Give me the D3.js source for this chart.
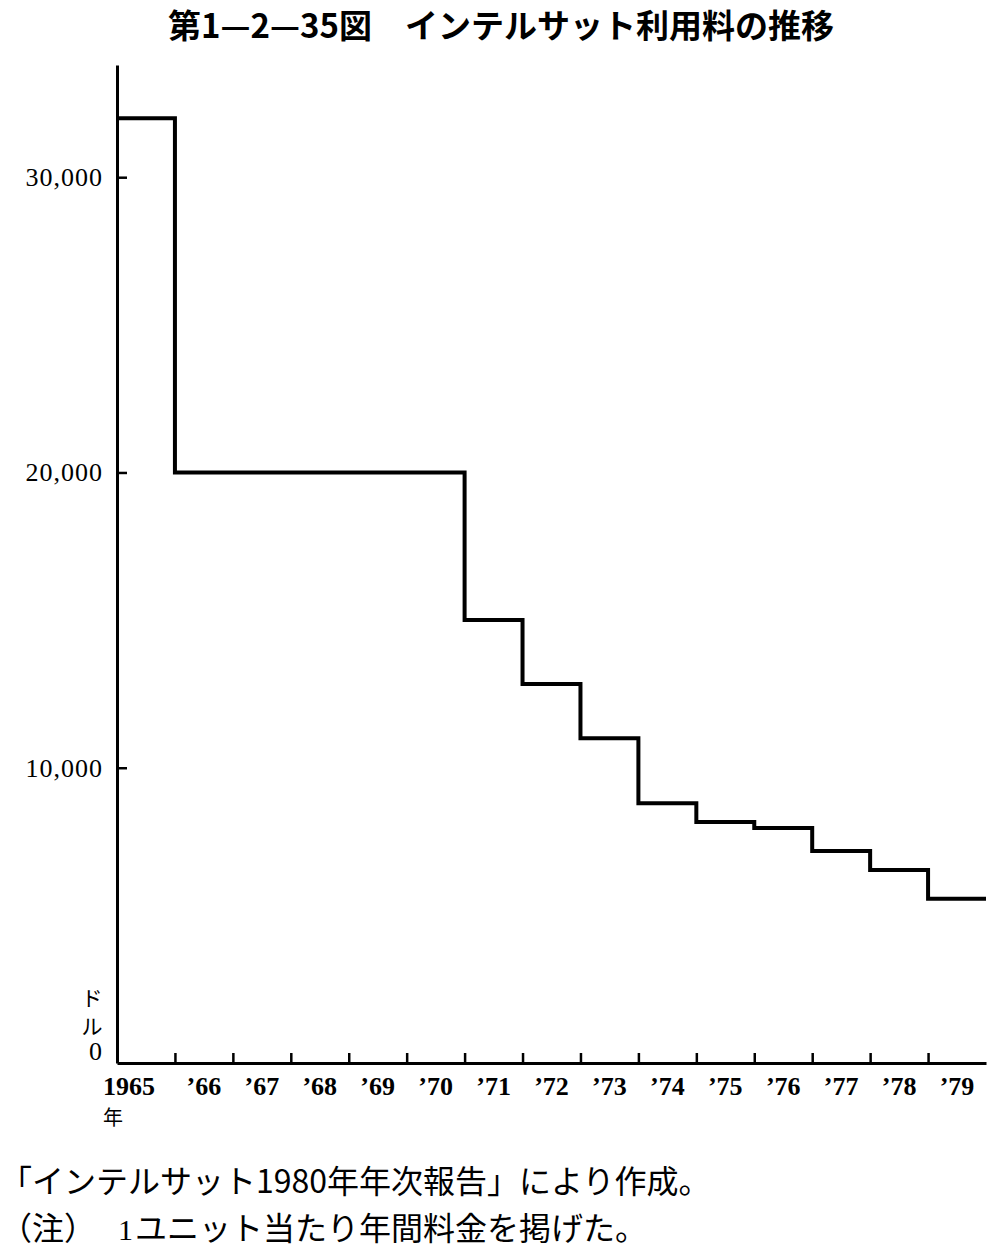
<!DOCTYPE html>
<html>
<head>
<meta charset="utf-8">
<script src="https://cdn.jsdelivr.net/npm/d3@7"></script>
<style>
  html, body { margin: 0; padding: 0; background: #fff; }
  svg { display: block; }
  .num { font-family: "Liberation Serif", "DejaVu Serif", serif; fill: #000; }
  .jp { font-family: "Noto Sans CJK JP", sans-serif; fill: #000; }
</style>
</head>
<body>
<svg id="chart" width="1005" height="1253"></svg>
<script>
// ---- data ----
const years = [1965, 1966, 1967, 1968, 1969, 1970, 1971, 1972, 1973, 1974, 1975, 1976, 1977, 1978, 1979];
const fees  = [32000, 20000, 20000, 20000, 20000, 20000, 15000, 12840, 11000, 8800, 8160, 7960, 7180, 6540, 5560];
const yearLabels = ["1965", "’66", "’67", "’68", "’69", "’70", "’71", "’72", "’73", "’74", "’75", "’76", "’77", "’78", "’79"];
const yTicks = [0, 10000, 20000, 30000];
const yTickLabels = ["0", "10,000", "20,000", "30,000"];
const title = "第1—2—35図　インテルサット利用料の推移";
const unitLabel = ["ド", "ル"];
const yearUnit = "年";
const note1 = "「インテルサット1980年年次報告」により作成。";
const note2a = "（注）";
const note2b = "1";
const note2c = "ユニット当たり年間料金を掲げた。";

// ---- layout ----
const svg = d3.select("#chart");
const x = d3.scaleLinear().domain([1965, 1980]).range([117, 986]);
const y = d3.scaleLinear().domain([0, 33800]).range([1063, 65]);

// title
svg.append("text").attr("class", "jp")
  .attr("x", 501).attr("y", 38)
  .attr("text-anchor", "middle")
  .attr("font-size", 33).attr("font-weight", 700)
  .text(title);

// y axis
const yAxis = d3.axisRight(y)
  .tickValues(yTicks.filter(d => d > 0))
  .tickSizeInner(10).tickSizeOuter(0)
  .tickFormat("");
const gy = svg.append("g").attr("transform", `translate(${x(1965)},0)`).call(yAxis);
gy.select(".domain").attr("stroke", "#000").attr("stroke-width", 3);
gy.selectAll(".tick line").attr("stroke", "#000").attr("stroke-width", 2.5);

svg.append("g").selectAll("text").data(yTicks).join("text")
  .attr("class", "num")
  .attr("x", 103)
  .attr("y", d => d === 0 ? y(d) - 3 : y(d) + 9)
  .attr("text-anchor", "end")
  .attr("font-size", 26)
  .attr("letter-spacing", 1)
  .text((d, i) => yTickLabels[i]);

// unit ドル (vertical)
svg.append("g").selectAll("text").data(unitLabel).join("text")
  .attr("class", "jp")
  .attr("x", 92).attr("y", (d, i) => 1006 + i * 28)
  .attr("text-anchor", "middle")
  .attr("font-size", 21)
  .text(d => d);

// x axis
const xAxis = d3.axisBottom(x)
  .tickValues(years.slice(1))
  .tickSizeInner(-10).tickSizeOuter(0)
  .tickFormat("");
const gx = svg.append("g").attr("transform", `translate(0,${y(0)})`).call(xAxis);
gx.select(".domain").attr("stroke", "#000").attr("stroke-width", 3);
gx.selectAll(".tick line").attr("stroke", "#000").attr("stroke-width", 2.5);

svg.append("g").selectAll("text").data(years).join("text")
  .attr("class", "num")
  .attr("x", (d, i) => i === 0 ? x(d) - 14 : x(d + 0.5))
  .attr("y", 1095)
  .attr("text-anchor", (d, i) => i === 0 ? "start" : "middle")
  .attr("font-size", 26)
  .attr("font-weight", 700)
  .text((d, i) => yearLabels[i]);

svg.append("text").attr("class", "jp")
  .attr("x", x(1965) - 14).attr("y", 1125)
  .attr("font-size", 20)
  .text(yearUnit);

// step line
const pts = years.map((yr, i) => [yr, fees[i]]);
pts.push([1980, fees[fees.length - 1]]);
const line = d3.line().x(d => x(d[0])).y(d => y(d[1])).curve(d3.curveStepAfter);
svg.append("path")
  .attr("d", line(pts))
  .attr("fill", "none")
  .attr("stroke", "#000")
  .attr("stroke-width", 4)
  .attr("stroke-linejoin", "miter");

// notes
svg.append("text").attr("class", "jp")
  .attr("x", 0).attr("y", 1193)
  .attr("font-size", 32)
  .text(note1);
svg.append("text").attr("class", "jp")
  .attr("x", 0).attr("y", 1240)
  .attr("font-size", 32)
  .text(note2a);
svg.append("text").attr("class", "num")
  .attr("x", 118).attr("y", 1240)
  .attr("font-size", 30)
  .text(note2b);
svg.append("text").attr("class", "jp")
  .attr("x", 135).attr("y", 1240)
  .attr("font-size", 32)
  .text(note2c);
</script>
</body>
</html>
